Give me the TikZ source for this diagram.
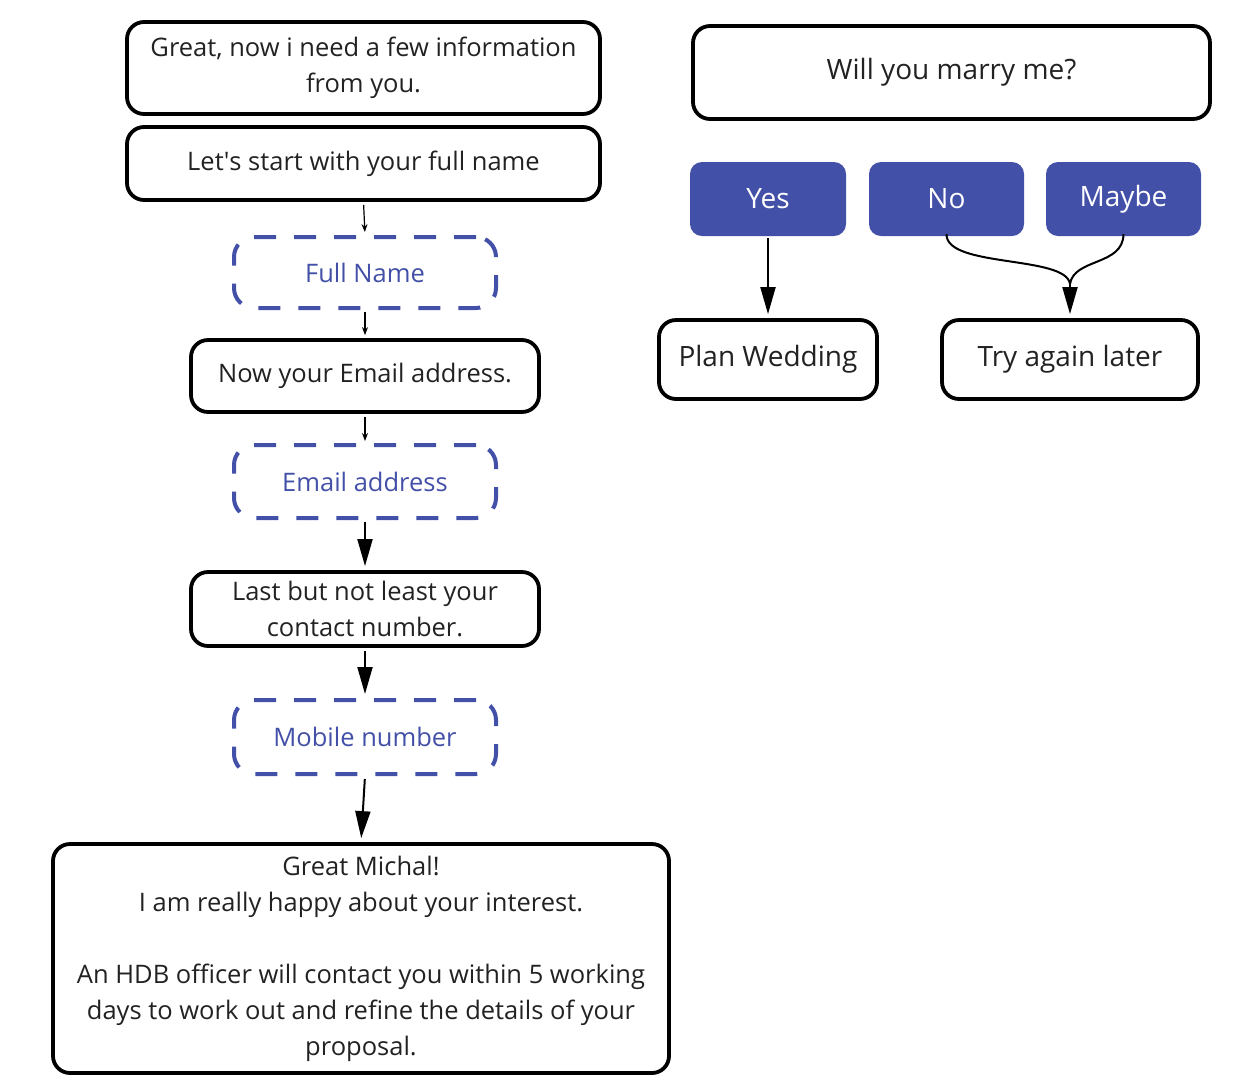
\documentclass[tikz,border=0pt]{standalone}
\usepackage{fontspec}
\setmainfont{Open Sans}
\usetikzlibrary{arrows.meta}
\definecolor{btnblue}{RGB}{67,80,168}
\definecolor{txt}{RGB}{34,34,34}
\begin{document}
\begin{tikzpicture}[x=1pt,y=-1pt,
  basefont/.style={font=\fontsize{25.5}{36}\selectfont},
  bigfont/.style={font=\fontsize{28}{36}\selectfont},
  box/.style={draw=black, line width=3.8pt, rounded corners=17pt, align=center, text=txt, basefont, inner sep=0pt},
  dbox/.style={draw=btnblue, line width=4pt, dash pattern=on 22pt off 18pt, rounded corners=20pt, text=btnblue, basefont, align=center, inner sep=0pt, minimum width=262pt},
  btn/.style={fill=btnblue, rounded corners=12pt, text=white, bigfont, inner sep=0pt, minimum height=74pt},
  smallarr/.style={-{Stealth[length=8pt,width=6pt]}, line width=1.2pt},
  bigarr/.style={-{Triangle[length=27pt,width=15pt]}, line width=2pt}]
\useasboundingbox (0,0) rectangle (1240,1088);

% left column
\node[box, minimum width=473pt, minimum height=92pt] (n1) at (363.5,68) {Great, now i need a few information\\from you.};
\node[box, minimum width=473pt, minimum height=73pt] (n2) at (363.5,163.5) {Let\textquotesingle s start with your full name};
\node[dbox, minimum height=71pt] (n3) at (365,272.5) {Full Name};
\node[box, minimum width=348pt, minimum height=72pt] (n4) at (365,376) {Now your Email address.};
\node[dbox, minimum height=73pt] (n5) at (365,481.5) {Email address};
\node[box, minimum width=348pt, minimum height=74pt] (n6) at (365,609) {Last but not least your\\contact number.};
\node[dbox, minimum height=74pt] (n7) at (365,737) {Mobile number};
\node[box, minimum width=616pt, minimum height=229pt] (n8) at (361,958.5) {Great Michal!\\I am really happy about your interest.\\[36pt]An HDB officer will contact you within 5 working\\days to work out and refine the details of your\\proposal.};

% right part
\node[box, bigfont, minimum width=517pt, minimum height=93pt] (q) at (951.5,72.5) {Will you marry me?};
\node[btn, minimum width=156pt] (yes) at (768,199) {Yes};
\node[btn, minimum width=155pt] (no) at (946.5,199) {No};
\node[btn, minimum width=155pt] (maybe) at (1123.5,199) {Maybe};
\node[box, bigfont, minimum width=218pt, minimum height=79pt] (plan) at (768,359.5) {Plan Wedding};
\node[box, bigfont, minimum width=256pt, minimum height=79pt] (try) at (1070,359.5) {Try again later};

% connectors left
\draw[smallarr, shorten <=3pt, shorten >=3pt] (n2.south) -- (n3.north);
\draw[smallarr, shorten <=2pt, shorten >=3pt] (n3.south) -- (n4.north);
\draw[smallarr, shorten <=3pt, shorten >=2pt] (n4.south) -- (n5.north);
\draw[bigarr, shorten <=2pt, shorten >=4pt] (n5.south) -- (n6.north);
\draw[bigarr, shorten <=3pt, shorten >=4pt] (n6.south) -- (n7.north);
\draw[bigarr, shorten <=3pt, shorten >=4pt] (n7.south) -- (n8.north);

% connectors right
\draw[bigarr, shorten <=2pt, shorten >=4pt] (yes.south) -- (plan.north);
\coordinate (j) at (1070,284);
\draw[line width=2pt] ([yshift=2pt]no.south) .. controls (946,268) and (1066,255) .. (j);
\draw[line width=2pt] ([yshift=2pt]maybe.south) .. controls (1123,266) and (1074,258) .. (j);
\draw[bigarr, shorten >=4pt] (j) -- (try.north);
\end{tikzpicture}
\end{document}
